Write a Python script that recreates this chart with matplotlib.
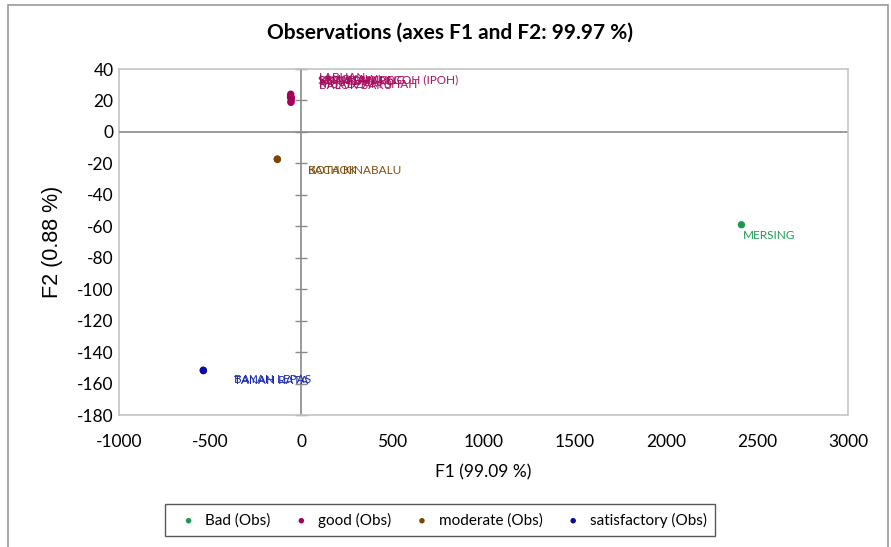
import matplotlib.pyplot as plt
from matplotlib.patches import Rectangle

plt.rcParams['axes.unicode_minus'] = False

# observations (F1, F2 factor scores) grouped by class
groups = ['Bad', 'good', 'moderate', 'satisfactory']

bad_names = ['MERSING']
bad_f1 = [2415]
bad_f2 = [-59]

good_names = ['LABUAN', 'MUADZAM SHAH', 'S.K. JALAN PEGOH (IPOH)', 'KUANTAN',
              'KOTA BHARU', 'LANGKAWI', 'SERI MANJUNG', 'BALOK BARU']
good_f1 = [-58, -56, -59, -57, -55, -58, -56, -57]
good_f2 = [24.0, 19.5, 22.6, 21.9, 21.2, 22.5, 21.8, 18.8]

moderate_names = ['KOTA KINABALU', 'BACHOK']
moderate_f1 = [-132, -131]
moderate_f2 = [-17.2, -17.5]

satisfactory_names = ['BAYAN LEPAS', 'TANAH RATA']
satisfactory_f1 = [-538, -537]
satisfactory_f2 = [-151.5, -151.8]

x_ticks = [-1000, -500, 0, 500, 1000, 1500, 2000, 2500, 3000]
y_ticks = [40, 20, 0, -20, -40, -60, -80, -100, -120, -140, -160, -180]

marker_colors = {'Bad': '#1a9a50', 'good': '#a3005c',
                 'moderate': '#7b4708', 'satisfactory': '#0a0aa5'}
text_colors = {'Bad': '#1f9c55', 'good': '#a80f62',
               'moderate': '#7f4f10', 'satisfactory': '#1c28b0'}
# label offsets in points (XLSTAT style placement)
offsets = {'Bad': (1, -8), 'good': (20, 12),
           'moderate': (22, -8), 'satisfactory': (22, -7)}

data = {
    'Bad': (bad_names, bad_f1, bad_f2),
    'good': (good_names, good_f1, good_f2),
    'moderate': (moderate_names, moderate_f1, moderate_f2),
    'satisfactory': (satisfactory_names, satisfactory_f1, satisfactory_f2),
}

fig = plt.figure(figsize=(8.91, 5.47), dpi=100)
ax = fig.add_axes([0.1336, 0.2413, 0.8182, 0.6325])

frame_col = '#c4c4c4'
zero_col = '#8a8a8a'
font = 'Lato'

for g in groups:
    names, f1, f2 = data[g]
    ax.scatter(f1, f2, s=28, color=marker_colors[g], zorder=3,
               label=g + ' (Obs)', edgecolors='none')
    for n, xv, yv in zip(names, f1, f2):
        ax.annotate(n, (xv, yv), xytext=offsets[g], textcoords='offset points',
                    color=text_colors[g], fontsize=8.5, family=font,
                    ha='left', va='center')

ax.set_xlim(-1000, 3000)
ax.set_ylim(-180, 40)
ax.axhline(0, color=zero_col, lw=1.2, zorder=1)

# y ticks crossing the vertical zero line
ax.spines['left'].set_position(('data', 0))
ax.spines['left'].set_color(zero_col)
ax.spines['left'].set_linewidth(1.2)
ax.set_yticks(y_ticks)
ax.tick_params(axis='y', direction='inout', length=9, width=1,
               color=zero_col, labelleft=False)
for s in ['top', 'right', 'bottom']:
    ax.spines[s].set_color(frame_col)
    ax.spines[s].set_linewidth(1.2)

ax.set_xticks(x_ticks)
ax.tick_params(axis='x', length=0, pad=14, labelsize=12.5)
for lab in ax.get_xticklabels():
    lab.set_family(font)

# tick labels and frame edge on the left
sec = ax.secondary_yaxis(0.0)
sec.set_yticks(y_ticks)
sec.tick_params(length=0, pad=4, labelsize=12.5)
sec.spines['left'].set_color(frame_col)
sec.spines['left'].set_linewidth(1.2)
for lab in sec.get_yticklabels():
    lab.set_family(font)

ax.set_xlabel('F1 (99.09 %)', family=font, fontsize=12.5, labelpad=10)
sec.set_ylabel('F2 (0.88 %)', family='Liberation Sans', fontsize=15.5, labelpad=10)

fig.text(0.505, 0.94, 'Observations (axes F1 and F2: 99.97 %)',
         ha='center', va='center', fontsize=15, fontweight='bold', family=font)

leg = fig.legend(loc='center', bbox_to_anchor=(0.494, 0.049), ncol=4,
                 frameon=True, fancybox=False, markerscale=0.75,
                 handletextpad=0.1, columnspacing=1.0, borderpad=0.55,
                 prop={'family': font, 'size': 11})
leg.get_frame().set_edgecolor('#303030')
leg.get_frame().set_linewidth(1.0)

fig.patches.append(Rectangle((0.009, -0.02), 0.988, 1.011, transform=fig.transFigure,
                             fill=False, edgecolor='#9a9a9a', lw=1.2))

fig.savefig('out.png', dpi=100)
